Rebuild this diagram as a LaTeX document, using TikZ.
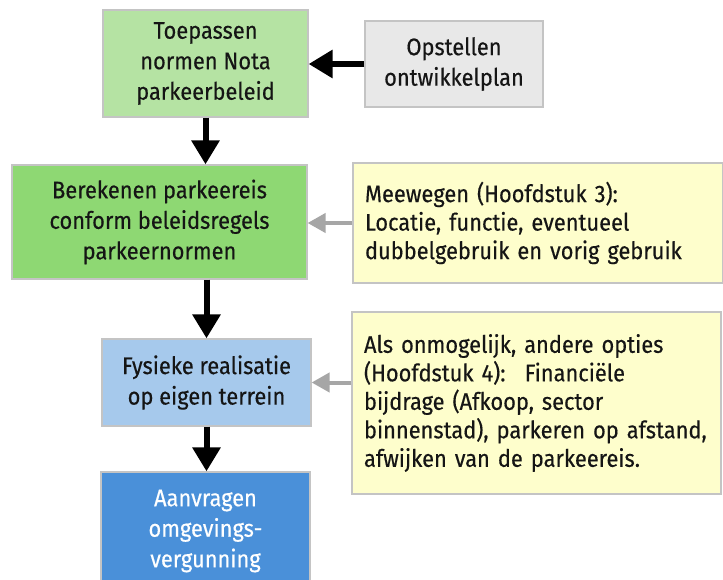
\documentclass[tikz,border=0pt]{standalone}
\usepackage{fontspec}
\setmainfont{Fira Sans}[FakeStretch=0.91,FakeBold=0.4]
\usetikzlibrary{arrows.meta}
\definecolor{lgreen}{HTML}{B5E3A3}
\definecolor{mgreen}{HTML}{8ED873}
\definecolor{lblue}{HTML}{A6C9EC}
\definecolor{dblue}{HTML}{4A90D9}
\definecolor{lgray}{HTML}{E8E8E8}
\definecolor{lyellow}{HTML}{FEFECC}
\definecolor{edgegray}{HTML}{C4C4C4}
\definecolor{txt}{HTML}{151515}
\definecolor{arrgray}{HTML}{A6A6A6}
\tikzset{
  x=1pt,y=-1pt,
  boxstyle/.style={draw=edgegray,line width=1.2pt,inner sep=0pt,align=center,
    font=\fontsize{24}{30.5}\selectfont,text=txt},
  notestyle/.style={boxstyle,align=left,text width=#1,font=\fontsize{24}{28.5}\selectfont},
  blackarrow/.style={line width=6pt,-{Triangle[length=24pt,width=27pt]},black},
  grayarrow/.style={line width=4pt,-{Triangle[length=18pt,width=19pt]},arrgray},
}
\begin{document}
\begin{tikzpicture}
\useasboundingbox (0,0) rectangle (723,580);
\fill[white] (0,0) rectangle (723,580);
\node[boxstyle,fill=lgreen,minimum width=205pt,minimum height=107pt] (b1) at (205.5,63.5)
  {Toepassen\\normen Nota\\parkeerbeleid};
\node[boxstyle,fill=lgray,minimum width=178pt,minimum height=86pt] (op) at (454,64)
  {Opstellen\\ontwikkelplan};
\node[boxstyle,fill=mgreen,minimum width=295pt,minimum height=114pt] (b2) at (159.5,222)
  {Berekenen parkeereis\\conform beleidsregels\\parkeernormen};
\node[notestyle=346pt,fill=lyellow,minimum width=370pt,minimum height=120pt] (y1) at (538,223)
  {Meewegen (Hoofdstuk 3):\\Locatie, functie, eventueel\\dubbelgebruik en vorig gebruik};
\node[boxstyle,fill=lblue,minimum width=209pt,minimum height=87pt] (b3) at (206.5,382.5)
  {Fysieke realisatie\\op eigen terrein};
\node[notestyle=345pt,fill=lyellow,minimum width=369pt,minimum height=182pt] (y2) at (536.5,403)
  {Als onmogelijk, andere opties\\(Hoofdstuk 4):\hspace{0.8em}Financiële\\bijdrage (Afkoop, sector\\binnenstad), parkeren op afstand,\\afwijken van de parkeereis.};
\node[boxstyle,fill=dblue,text=white,minimum width=209pt,minimum height=118pt] (b4) at (205.5,531)
  {Aanvragen\\omgevings-\\vergunning};
\draw[blackarrow] (op.west) -- (op.west -| b1.east);
\draw[blackarrow] (b1.south) -- (b1.south |- b2.north);
\draw[blackarrow] (b3.north |- b2.south) -- (b3.north);
\draw[blackarrow] (b3.south) -- (b3.south |- b4.north);
\draw[grayarrow] (y1.west) -- (y1.west -| b2.east);
\draw[grayarrow] (y2.west |- b3.east) -- (b3.east);
\end{tikzpicture}
\end{document}
